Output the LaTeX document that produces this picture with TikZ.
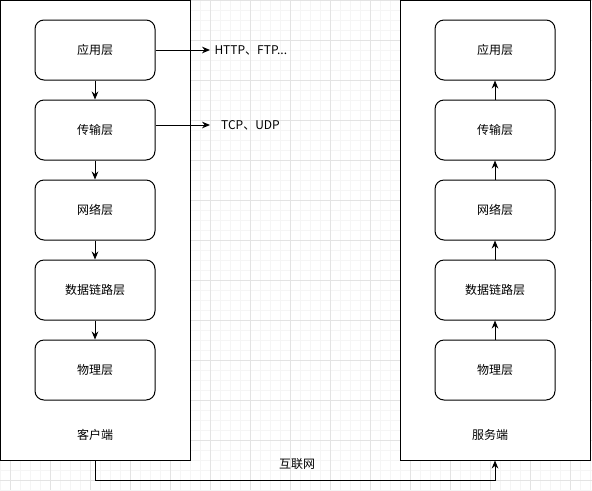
\documentclass[tikz,border=0pt]{standalone}
\usepackage{fontspec}
\setmainfont{Noto Sans CJK SC}
\usetikzlibrary{arrows.meta}

\begin{document}
\begin{tikzpicture}[x=0.75pt,y=-0.75pt,line width=0.75pt,
		font=\fontsize{9}{11}\selectfont,
		layer/.style={draw, fill=white, rounded corners=6.75pt, minimum width=90pt, minimum height=45pt, inner sep=0pt},
		host/.style={draw, fill=white, minimum width=142.5pt, minimum height=345pt, inner sep=0pt},
		arrowline/.style={-{Stealth[length=6pt,width=5pt]}}]

			\useasboundingbox (0,0) rectangle (592,490);

			% grid
			\foreach \x in {0,10,...,590}
				\draw [line width=0.5pt, black!4] (\x,0) -- (\x,490);
			\foreach \y in {0,10,...,490}
				\draw [line width=0.5pt, black!4] (0,\y) -- (592,\y);
			\foreach \x in {10,50,...,570}
				\draw [line width=0.5pt, black!11] (\x,0) -- (\x,490);
			\foreach \y in {0,40,...,480}
				\draw [line width=0.5pt, black!11] (0,\y) -- (592,\y);

			\node [host] (client) at (95.5,230) {};
			\node [host] (server) at (495,230) {};

			\foreach \name/\txt [count=\i] in {app/应用层, trans/传输层, net/网络层, data/数据链路层, phy/物理层} {
				\node [layer] (c\name) at (95,-30+80*\i) {\txt};
				\node [layer] (s\name) at (495,-30+80*\i) {\txt};
			}

			\foreach \a/\b in {app/trans, trans/net, net/data, data/phy} {
				\draw [arrowline] (c\a) -- (c\b);
				\draw [arrowline] (s\b) -- (s\a);
			}

			\node (clientlabel) at (95,435) {客户端};
			\node (serverlabel) at (490,435) {服务端};

			\node [anchor=west, inner xsep=3pt] (http) at (210,50) {HTTP、FTP...};
			\node [anchor=west, inner xsep=8pt] (tcp) at (210,125) {TCP、UDP};
			\draw [arrowline] (capp) -- (http);
			\draw [arrowline] (ctrans.east |- tcp) -- (tcp);

			\node (inet) at (297,464) {互联网};
			\draw [arrowline] (client.south) -- ++(0,20) -| (server.south);
		\end{tikzpicture}
\end{document}
